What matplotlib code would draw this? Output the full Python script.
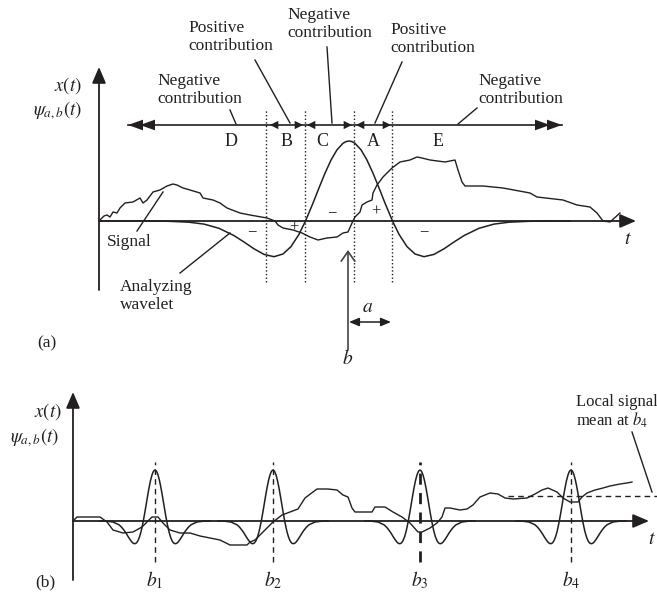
import matplotlib.pyplot as plt

plt.rcParams['mathtext.fontset'] = 'stix'
plt.rcParams['font.family'] = ['Liberation Serif', 'DejaVu Serif']

INK = '#231f20'
W, H = 657, 593

# ---- panel (a): signal and analyzing wavelet (amplitude measured up from the t axis)
sig_a_t = [100, 104, 107, 110, 113, 117, 120, 125, 133, 140, 143, 147, 153, 160, 167, 173, 177, 183, 190, 200,
           203, 213, 220, 227, 240, 250, 267, 275, 278, 283, 293, 302, 310, 318, 327, 337, 343, 348, 352, 355,
           360, 362, 367, 372, 373, 377, 383, 392, 400, 410, 417, 422, 430, 445, 455, 458, 462, 465, 483, 503,
           530, 537, 563, 577, 590, 597, 603, 610, 620]
sig_a_y = [1, 5, 6, 4, 9, 8, 13, 18, 19, 23, 18, 21, 29, 31, 35, 37, 36, 33, 31, 28,
           23, 21, 18, 13, 8, 6, 3, 0, -4, -7, -9, -12, -16, -19, -17, -16, -12, -11, -2, 4,
           9, 16, 19, 21, 28, 36, 44, 53, 59, 61, 64, 63, 61, 59, 61, 51, 39, 35, 35, 33,
           28, 24, 21, 16, 14, 8, 0, -1, 8]

wav_a_t = [100, 149, 169, 189, 204, 219, 234, 244, 254, 264, 274, 283, 291, 299, 305.5, 313, 319, 325, 331, 337,
           343, 346, 349, 352, 355, 361, 367, 373, 379, 385, 392.5, 399, 407, 415, 424, 434, 444, 454, 464, 479,
           494, 509, 529, 549, 570]
wav_a_y = [0, 0, -0.3, -1.2, -3.1, -7.3, -14.6, -21.0, -27.8, -33.4, -35.7, -33.0, -25.6, -13.3, 0, 17.9, 33.1, 47.8, 60.9, 71.2,
           77.7, 79.4, 80, 79.4, 77.7, 71.2, 60.9, 47.8, 33.1, 17.9, 0, -13.3, -25.6, -33.0, -35.7, -33.4, -27.8, -21.0, -14.6, -7.3,
           -3.1, -1.2, -0.3, 0, 0]

borders_a = [266, 305, 354, 392]
region_names = ['D', 'B', 'C', 'A', 'E']
region_x = [231, 287, 322, 373, 438]

# ---- panel (b): signal and wavelets translated to b1..b4
sig_b_t = [73, 77, 100, 107, 113, 123, 133, 142, 147, 152, 158, 163, 170, 180, 190, 200, 210, 220, 230, 247,
           250, 255, 260, 267, 273, 282, 290, 298, 305, 317, 328, 337, 343, 348, 352, 355, 372, 375, 385, 393,
           402, 410, 418, 422, 430, 437, 442, 445, 450, 460, 467, 473, 480, 490, 498, 505, 513, 527, 535, 542,
           548, 557, 563, 570, 578, 582, 587, 595, 603, 610, 620, 627, 632]
sig_b_y = [0, 4, 4, -1, -9, -12, -11, -6, -1, 4, 4, -2, -9, -12, -12, -15, -17, -19, -24, -24,
           -21, -19, -14, -7, -1, 6, 9, 12, 23, 32, 32, 31, 26, 24, 13, 9, 9, 14, 14, 9,
           4, -2, -11, -11, -7, -2, 4, 13, 13, 11, 12, 16, 24, 28, 27, 23, 22, 23, 27, 31,
           33, 29, 23, 19, 19, 24, 28, 31, 33, 35, 37, 38, 39]

wav_b_dt = [-55, -50, -42, -36, -33.5, -31, -29, -27, -25, -23, -21.5, -20, -18.5, -17, -15.5, -14, -12.8, -11.7, -10.3, -9,
            -7.5, -6, -4.5, -3, -1.5, 0, 1.5, 3, 4.5, 6, 7.5, 9, 10.3, 11.7, 12.8, 14, 15.5, 17, 18.5, 20,
            21.5, 23, 25, 27, 29, 31, 33.5, 36, 42, 50, 55]
wav_b_y = [0, 0, -1.0, -3.8, -6.1, -9.2, -12.1, -15.4, -18.5, -21.2, -22.4, -22.7, -21.9, -19.7, -16.0, -10.8, -5.5, 0, 7.8, 15.5,
           24.5, 33.0, 40.4, 46.1, 49.8, 51, 49.8, 46.1, 40.4, 33.0, 24.5, 15.5, 7.8, 0, -5.5, -10.8, -16.0, -19.7, -21.9, -22.7,
           -22.4, -21.2, -18.5, -15.4, -12.1, -9.2, -6.1, -3.8, -1.0, 0, 0]

b_pos = [155, 273, 420, 571]
b_names = ['$b_1$', '$b_2$', '$b_3$', '$b_4$']
local_mean_b4 = 25

fig = plt.figure(figsize=(W / 100, H / 100), dpi=100)


def overlay(y0):
    # full-figure axes whose y = 0 sits on pixel row y0, y grows upward
    ax = fig.add_axes([0, 0, 1, 1])
    ax.set_xlim(0, W)
    ax.set_ylim(y0 - H, y0)
    ax.axis('off')
    ax.patch.set_alpha(0)
    return ax


ax_a = overlay(221)
ax_b = overlay(521)
lay = fig.add_axes([0, 0, 1, 1])
lay.set_xlim(0, W)
lay.set_ylim(H, 0)
lay.axis('off')
lay.patch.set_alpha(0)


def arrow(ax, tip, tail, style='-|>', hl=0.7, hw=0.3, ms=14, lw=1.3, color=INK):
    ax.annotate('', xy=tip, xytext=tail,
                arrowprops=dict(arrowstyle=f'{style},head_length={hl},head_width={hw}',
                                color=color, lw=lw, shrinkA=0, shrinkB=0, mutation_scale=ms))


def txt(x, y, s, size=12.5, **kw):
    kw.setdefault('ha', 'center')
    kw.setdefault('va', 'center')
    lay.text(x, y, s, fontsize=size, color=INK, **kw)


# ---------------- panel (a)
arrow(ax_a, (99, 154), (99, -69))
arrow(ax_a, (636, 0), (99, 0))
ax_a.plot(wav_a_t, wav_a_y, color=INK, lw=1.1)
ax_a.plot(sig_a_t, sig_a_y, color=INK, lw=1.0)
ax_a.vlines(borders_a, -61, 111, colors=INK, lw=1.0, linestyles=(0, (1, 1.6)))

# region arrow line with heads
lay.plot([128, 562], [125, 125], color=INK, lw=1.2)
for tip, tail in [(128, 142), (140, 154), (562, 548), (550, 536)]:
    arrow(lay, (tip, 125), (tail, 125), hl=0.9, hw=0.32, ms=12, lw=0)
for tip, tail in [(270, 278), (303, 295), (307, 315), (352, 344), (356, 364), (391, 383)]:
    arrow(lay, (tip, 125), (tail, 125), hl=0.6, hw=0.3, ms=10, lw=0)
for name, x in zip(region_names, region_x):
    txt(x, 141, name, size=13)

txt(157, 90, 'Negative\ncontribution', ha='left', linespacing=1.1)
txt(188, 37, 'Positive\ncontribution', ha='left', linespacing=1.1)
txt(287, 24, 'Negative\ncontribution', ha='left', linespacing=1.1)
txt(390, 39, 'Positive\ncontribution', ha='left', linespacing=1.1)
txt(478, 90, 'Negative\ncontribution', ha='left', linespacing=1.1)
for (x0, y0), (x1, y1) in [((230, 110), (236, 124)), ((255, 60), (290, 123)), ((327, 47), (332, 123)),
                           ((402, 62), (375, 123)), ((477, 108), (458, 124)),
                           ((137, 231), (163, 192)), ((180, 273), (230, 233))]:
    lay.plot([x0, x1], [y0, y1], color=INK, lw=1.0)

txt(107, 242, 'Signal', ha='left')
txt(120, 296, 'Analyzing\nwavelet', ha='left', linespacing=1.1)
txt(82, 86, '$x(t)$', ha='right', size=13.5)
txt(82, 111, r'$\psi_{a,b}(t)$', ha='right', size=13.5)
txt(628, 240, '$t$', size=14)
txt(47, 343, '(a)')
for s, x, y in [('\u2212', 252, 232), ('+', 294, 228), ('\u2212', 332, 213), ('+', 376, 212), ('\u2212', 424, 232)]:
    txt(x, y, s, size=12)

arrow(lay, (348, 250), (348, 350), style='->', hl=0.5, hw=0.35, ms=14, lw=1.2, color='#444444')
arrow(lay, (391, 322), (349, 322), style='<|-|>', hl=0.6, hw=0.25, ms=10, lw=1.1)
txt(368, 308, '$a$', size=14)
txt(348, 359, '$b$', size=14)

# ---------------- panel (b)
arrow(ax_b, (73, 129), (73, -59))
arrow(ax_b, (649, 0), (73, 0))
for b in b_pos:
    ax_b.plot([b + d for d in wav_b_dt], wav_b_y, color=INK, lw=1.1)
ax_b.plot(sig_b_t, sig_b_y, color=INK, lw=1.0)
for b, name in zip(b_pos, b_names):
    ax_b.vlines(b, -41, 59, colors=INK, lw=2.0 if name == '$b_3$' else 1.0, linestyles=(0, (4, 3)))
    txt(b, 580, name, size=14)
ax_b.hlines(local_mean_b4, 508, W, colors=INK, lw=1.0, linestyles=(0, (4, 3)))
lay.plot([632, 652], [432, 492], color=INK, lw=1.0)
txt(576, 412, 'Local signal\nmean at $b_4$', size=12, ha='left', linespacing=1.1)
txt(62, 412, '$x(t)$', ha='right', size=13.5)
txt(59, 438, r'$\psi_{a,b}(t)$', ha='right', size=13.5)
txt(652, 540, '$t$', size=14)
txt(45, 582, '(b)')

fig.savefig('out.png', dpi=100)
